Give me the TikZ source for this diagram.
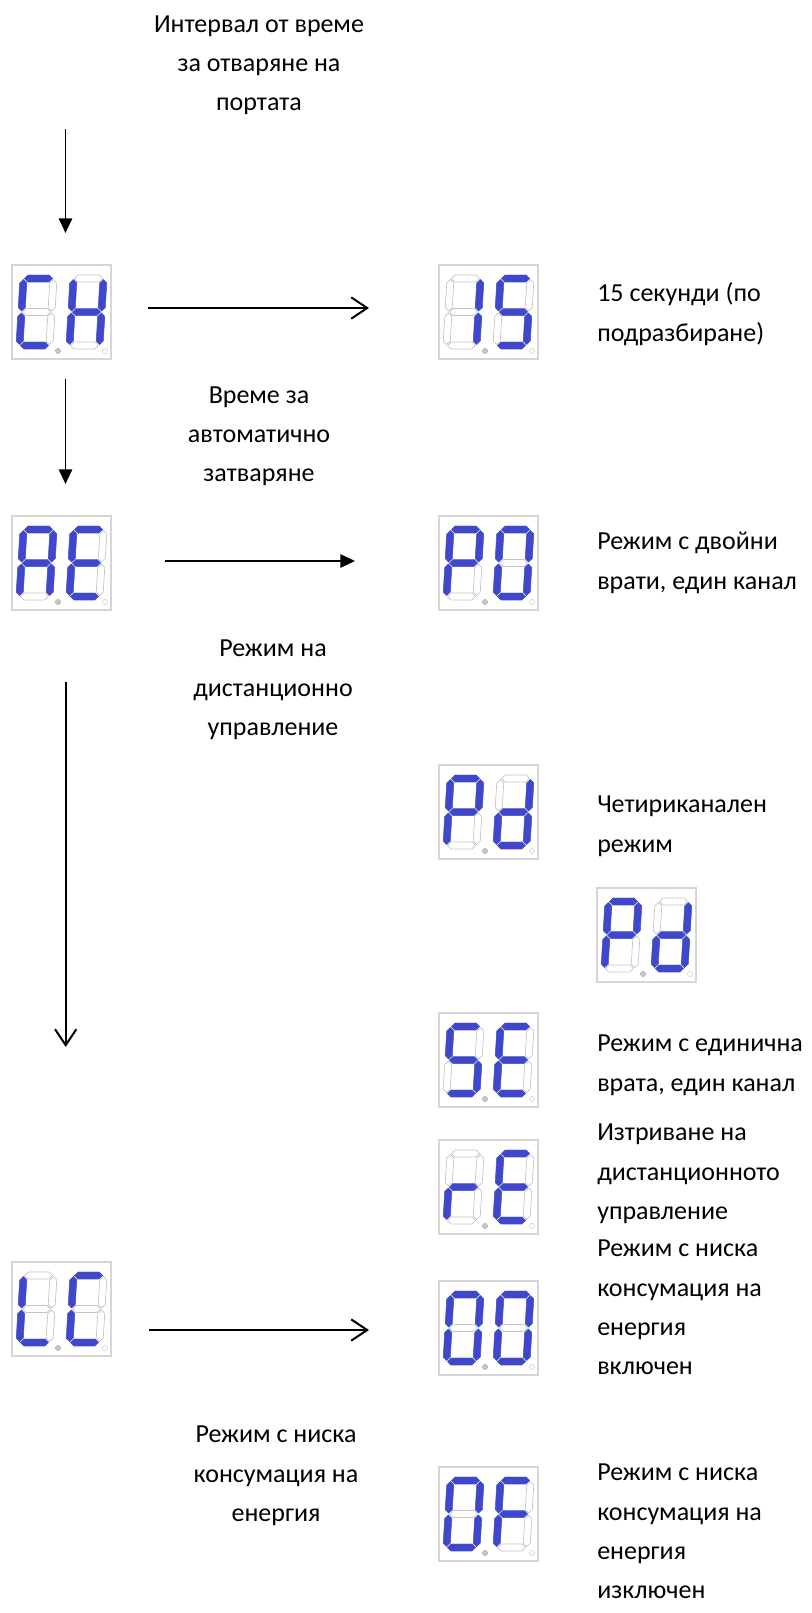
\documentclass[tikz,border=0pt]{standalone}
\usepackage{fontspec}
\setmainfont{Carlito}
\usetikzlibrary{arrows.meta, positioning}
\definecolor{segblue}{RGB}{63,72,204}
\definecolor{segline}{RGB}{196,196,196}
\definecolor{boxline}{RGB}{214,214,214}
\newcommand\lblfont{\fontsize{19.5}{29.5}\selectfont}

% segment outlines, digit-local units (centre of digit at 0,0, y down)
\newcommand\hsegpath[1]{(-14,#1) -- (-10.5,#1-3.5) -- (10.5,#1-3.5) -- (14,#1)
  -- (10.5,#1+3.5) -- (-10.5,#1+3.5) -- cycle}
\newcommand\vsegpath[3]{(#1,#2+1) -- (#1+3.5,#2+4.5) -- (#1+3.5,#3-4.5) -- (#1,#3-1)
  -- (#1-3.5,#3-4.5) -- (#1-3.5,#2+4.5) -- cycle}
\newcommand\dsega{\hsegpath{-33.5}}
\newcommand\dsegb{\vsegpath{15}{-33.5}{0}}
\newcommand\dsegc{\vsegpath{15}{0}{33.5}}
\newcommand\dsegd{\hsegpath{33.5}}
\newcommand\dsege{\vsegpath{-15}{0}{33.5}}
\newcommand\dsegf{\vsegpath{-15}{-33.5}{0}}
\newcommand\dsegg{\hsegpath{0}}

% one digit: x of centre, lit segments
\newcommand\segdigit[2]{%
  \begin{scope}[shift={(#1,47)}, xslant=0.06]
    \foreach \s in {a,b,c,d,e,f,g}{%
      \expandafter\let\expandafter\segp\csname dseg\s\endcsname
      \draw[segoff] \segp;}
    \foreach \s in {#2}{%
      \expandafter\let\expandafter\segp\csname dseg\s\endcsname
      \draw[segon] \segp;}
  \end{scope}}

% whole display: name, x, y (top left), left digit, right digit
\newcommand\segdisp[5]{%
  \node[dispbox] (#1) at (#2,#3) {};
  \begin{scope}[shift={(#1.north west)}]
    \segdigit{24.5}{#4}
    \segdigit{74.5}{#5}
    \draw[dpon] (46,86) circle[radius=2.6];
    \draw[dpoff] (93,86) circle[radius=2.6];
  \end{scope}}

\tikzset{
  dispbox/.style={draw=boxline, line width=0.9pt, minimum width=74.25pt,
    minimum height=70.5pt, inner sep=0pt, outer sep=0pt, anchor=north west},
  segoff/.style={fill=white, draw=segline, line width=0.5pt},
  segon/.style={fill=segblue, draw=segblue, line width=0.3pt},
  dpon/.style={fill=gray!45, draw=gray!60, line width=0.4pt},
  dpoff/.style={fill=white, draw=gray!35, line width=0.4pt},
  lbl/.style={font=\lblfont, align=left, inner sep=0pt, anchor=north west},
  clbl/.style={font=\lblfont, align=center, inner sep=0pt, anchor=north},
  solidarr/.style={-{Triangle[length=11pt,width=10pt]}, line width=1.4pt},
  openarr/.style={-{Straight Barb[length=12pt,width=16pt,line width=1.5pt]}, line width=1.7pt}
}

\begin{document}
\begin{tikzpicture}[x=0.75pt, y=-0.75pt]
\fill[white] (0,0) rectangle (811,1613);
\useasboundingbox (0,0) rectangle (811,1613);

% displays
\segdisp{dCH}{12}{265}{a,d,e,f}{b,c,e,f,g}
\segdisp{d15}{439}{265}{b,c}{a,f,g,c,d}
\segdisp{dAE}{12}{516}{a,b,c,e,f,g}{a,d,e,f,g}
\segdisp{dPO}{439}{516}{a,b,e,f,g}{a,b,c,d,e,f}
\segdisp{dPd}{439}{765}{a,b,e,f,g}{b,c,d,e,g}
\segdisp{dPdb}{597}{888}{a,b,e,f,g}{b,c,d,e,g}
\segdisp{dSE}{439}{1013}{a,f,g,c,d}{a,d,e,f,g}
\segdisp{drE}{439}{1140}{e,g}{a,d,e,f,g}
\segdisp{dLC}{12}{1262}{d,e,f}{a,d,e,f}
\segdisp{dOO}{439}{1281}{a,b,c,d,e,f}{a,b,c,d,e,f}
\segdisp{dOF}{439}{1467}{a,b,c,d,e,f}{a,e,f,g}

% labels
\node[clbl] (opentime) at (259,4.5) {\strut Интервал от време\\за отваряне на\\портата};
\node[lbl] (sec15) at (597,274) {\strut 15 секунди (по\\подразбиране)};
\node[clbl] (autoclose) at (259,375.5) {\strut Време за\\автоматично\\затваряне};
\node[lbl] (doublegate) at (597,522) {\strut Режим с двойни\\врати, един канал};
\node[clbl] (remote) at (273,629) {\strut Режим на\\дистанционно\\управление};
\node[lbl] (fourch) at (597,785) {\strut Четириканален\\режим};
\node[lbl] (singlegate) at (597,1024) {\strut Режим с единична\\врата, един канал};
\node[lbl] (erase) at (597,1113) {\strut Изтриване на\\дистанционното\\управление};
\node[lbl] (lowon) at (597,1229) {\strut Режим с ниска\\консумация на\\енергия\\включен};
\node[clbl] (lowmode) at (276,1415) {\strut Режим с ниска\\консумация на\\енергия};
\node[lbl] (lowoff) at (597,1453) {\strut Режим с ниска\\консумация на\\енергия\\изключен};

% arrow ends
\coordinate (a1s) at (65.5,129);  \coordinate (a1e) at (65.5,233);
\coordinate (a2s) at (148,308);   \coordinate (a2e) at (369,308);
\coordinate (a3s) at (65.5,379);  \coordinate (a3e) at (65.5,484);
\coordinate (a4s) at (165,561);   \coordinate (a4e) at (355,561);
\coordinate (a5s) at (65.7,682);  \coordinate (a5e) at (65.7,1047);
\coordinate (a6s) at (149,1330);  \coordinate (a6e) at (369,1330);

\draw[solidarr] (a1s) -- (a1e);
\draw[openarr] (a2s) -- (a2e);
\draw[solidarr] (a3s) -- (a3e);
\draw[solidarr] (a4s) -- (a4e);
\draw[openarr] (a5s) -- (a5e);
\draw[openarr] (a6s) -- (a6e);
\end{tikzpicture}
\end{document}
